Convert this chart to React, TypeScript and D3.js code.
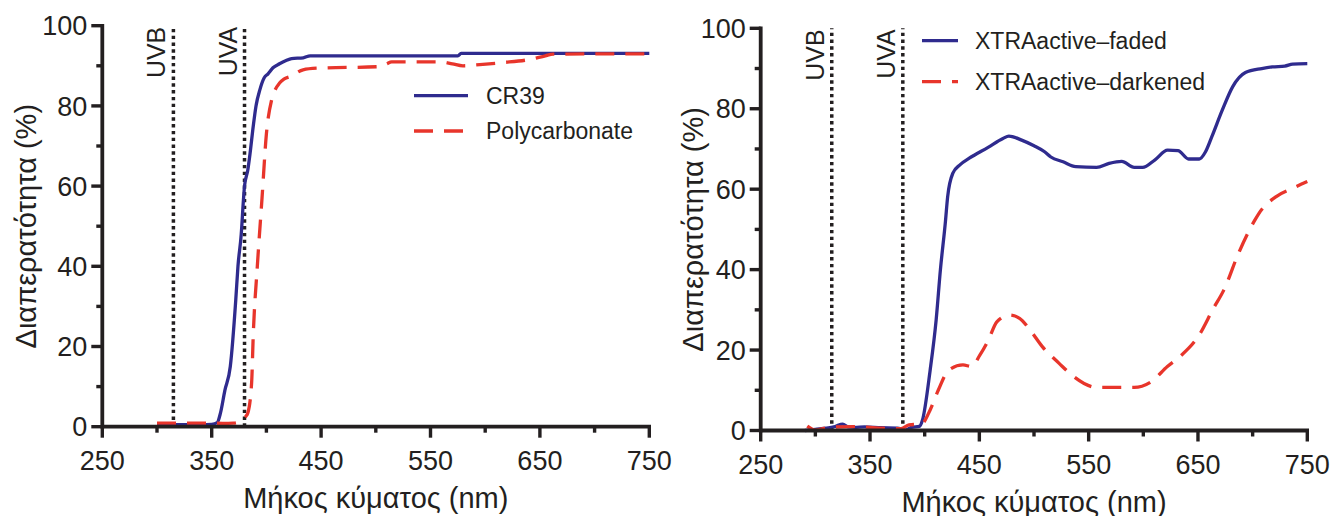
import React from "react";
import * as d3 from "d3";

// ---------- DATA ----------
const xMajorTicks = [250, 350, 450, 550, 650, 750];
const xMinorTicks = [300, 400, 500, 600, 700];
const yMajorTicks = [0, 20, 40, 60, 80, 100];
const yMinorTicks = [10, 30, 50, 70, 90];

const uvLines = [
  { label: "UVB", wl: 315 },
  { label: "UVA", wl: 380 },
];

// Left panel: CR39 (solid), Polycarbonate (dashed)
const cr39Wl = [300, 320, 340, 350, 355, 358, 362, 367, 372, 374, 377, 379, 380, 383, 385, 388, 390.5, 394, 398, 401.5, 406, 412, 418, 423, 433.7, 440, 500, 575, 578, 650, 750];
const cr39T = [0.5, 0.5, 0.5, 0.6, 1, 3.4, 9, 15, 31.6, 40, 48, 56.5, 60, 64, 68, 75, 80, 84, 87, 88, 89.5, 90.5, 91.3, 91.8, 92, 92.5, 92.5, 92.5, 93.1, 93.1, 93.1];

const polyWl = [300, 320, 340, 360, 370, 375, 378.6, 381, 383, 386.5, 388, 391.7, 396, 400, 404.8, 408, 412, 416, 421.6, 433.5, 446, 504, 510, 514.5, 558.7, 570, 579.7, 595, 616, 641, 655, 662, 750];
const polyT = [0.9, 0.9, 0.9, 0.85, 0.9, 1.2, 1.8, 2.5, 3.4, 11, 23, 40, 57, 73, 81.5, 84, 85.7, 86.7, 87.3, 89, 89.4, 89.8, 90.5, 91, 91, 90.5, 90, 90.3, 90.8, 91.6, 92.5, 92.9, 93];

// Right panel: XTRAactive faded (solid), darkened (dashed)
const fadedWl = [290.5, 300, 310, 318, 325, 330, 336, 345, 360, 375, 382, 388, 395, 398, 405, 410.5, 414.4, 419, 421, 425.8, 432, 440.8, 458, 471.6, 477, 488.7, 500, 509.7, 515.4, 526.6, 538.2, 557.3, 568.7, 580.2, 591.7, 599.3, 610.7, 622.2, 631.7, 641.4, 651.2, 656.9, 662.6, 672.3, 681.8, 693.4, 708.3, 718, 729.4, 736.6, 750];
const fadedT = [0, 0.3, 0.6, 1.0, 1.6, 0.9, 0.8, 0.9, 0.7, 0.6, 0.1, 0.8, 1.0, 2.6, 15, 27.5, 40, 52, 58.1, 64, 66, 67.7, 70.4, 72.6, 73.2, 72.2, 70.8, 69.3, 68, 66.8, 65.6, 65.4, 66.4, 66.9, 65.4, 65.4, 67.3, 69.7, 69.6, 67.5, 67.5, 69.3, 73, 79.7, 85.5, 89, 90, 90.4, 90.6, 91.1, 91.2];

const darkWl = [292.6, 300, 313, 336, 359, 378, 385.6, 397, 405, 412.4, 422, 435, 443, 450.6, 458.3, 466, 477.4, 486.8, 496.4, 507.8, 523, 534.5, 545.8, 557.4, 591.6, 607, 622, 633.6, 651, 664.2, 673.6, 687, 702, 705.8, 721.2, 736.5, 750];
const darkT = [1.1, 0.1, 0.8, 0.95, 0.6, 0.45, 1.4, 1.6, 5.1, 10, 15, 16.3, 15.9, 18.8, 22.5, 27, 28.7, 27.9, 25, 20.8, 16.7, 13.8, 11.7, 10.7, 10.7, 12.1, 15.9, 18.4, 23.7, 30.4, 34.9, 44, 52.3, 54, 58.1, 60.2, 61.9];

const leftLegend = ["CR39", "Polycarbonate"];
const rightLegend = ["XTRAactive\u2013faded", "XTRAactive\u2013darkened"];

const xTitle = "Μήκος κύματος (nm)";
const yTitle = "Διαπερατότητα (%)";

// ---------- STYLE ----------
const BLUE = "#2f2b8e";
const RED = "#e8352b";
const INK = "#231f20";
const FONT = "'Liberation Sans', Arial, Helvetica, sans-serif";
const DASH = "19 11";

type Series = { wl: number[]; t: number[]; color: string; dash?: string };

type PanelProps = {
  xr: [number, number];
  yr: [number, number];
  series: Series[];
  legend: string[];
  legendX: number;
  legendY: number[];
  legendLen: number;
  legendTextX: number;
  yTitleX: number;
};

function Panel(p: PanelProps) {
  const x = d3.scaleLinear().domain([250, 750]).range(p.xr);
  const y = d3.scaleLinear().domain([0, 100]).range(p.yr);
  const line = d3
    .line<[number, number]>()
    .x((d) => x(d[0]))
    .y((d) => y(d[1]))
    .curve(d3.curveMonotoneX);
  const x0 = p.xr[0];
  const yb = p.yr[0];
  const sw = 3.8;
  const tw = 3.4;
  return (
    <g fontFamily={FONT} fill={INK}>
      {/* UV dotted lines */}
      {uvLines.map((u) => (
        <g key={u.label}>
          <line
            x1={x(u.wl)}
            x2={x(u.wl)}
            y1={y(0)}
            y2={y(100)}
            stroke={INK}
            strokeWidth={3.5}
            strokeDasharray="3.4 3.4"
          />
          <text
            transform={`translate(${x(u.wl) - 8},${y(100) + 1}) rotate(-90)`}
            textAnchor="end"
            fontSize={25}
          >
            {u.label}
          </text>
        </g>
      ))}
      {/* series */}
      {p.series.map((s, i) => (
        <path
          key={i}
          d={line(s.wl.map((w, k) => [w, s.t[k]] as [number, number])) || ""}
          fill="none"
          stroke={s.color}
          strokeWidth={3.3}
          strokeDasharray={s.dash}
          strokeLinejoin="round"
        />
      ))}
      {/* axes */}
      <line x1={x0} x2={p.xr[1] + 1.7} y1={yb} y2={yb} stroke={INK} strokeWidth={sw} />
      <line x1={x0} x2={x0} y1={yb + 1.7} y2={p.yr[1] - 1.7} stroke={INK} strokeWidth={sw} />
      {xMajorTicks.map((t) => (
        <g key={"xm" + t}>
          <line x1={x(t)} x2={x(t)} y1={yb} y2={yb + 11} stroke={INK} strokeWidth={tw} />
          <text x={x(t)} y={yb + 43} textAnchor="middle" fontSize={27}>
            {t}
          </text>
        </g>
      ))}
      {xMinorTicks.map((t) => (
        <line key={"xn" + t} x1={x(t)} x2={x(t)} y1={yb} y2={yb + 6} stroke={INK} strokeWidth={tw} />
      ))}
      {yMajorTicks.map((t) => (
        <g key={"ym" + t}>
          <line x1={x0 - 11} x2={x0} y1={y(t)} y2={y(t)} stroke={INK} strokeWidth={tw} />
          <text x={x0 - 15} y={y(t)} dy="0.36em" textAnchor="end" fontSize={27}>
            {t}
          </text>
        </g>
      ))}
      {yMinorTicks.map((t) => (
        <line key={"yn" + t} x1={x0 - 6} x2={x0} y1={y(t)} y2={y(t)} stroke={INK} strokeWidth={tw} />
      ))}
      {/* titles */}
      <text x={(p.xr[0] + p.xr[1]) / 2} y={yb + 81} textAnchor="middle" fontSize={29}>
        {xTitle}
      </text>
      <text
        transform={`translate(${p.yTitleX},${(p.yr[0] + p.yr[1]) / 2}) rotate(-90)`}
        textAnchor="middle"
        fontSize={29}
      >
        {yTitle}
      </text>
      {/* legend */}
      {p.legend.map((l, i) => (
        <g key={l}>
          <line
            x1={p.legendX}
            x2={p.legendX + p.legendLen}
            y1={p.legendY[i]}
            y2={p.legendY[i]}
            stroke={p.series[i].color}
            strokeWidth={3.3}
            strokeDasharray={p.series[i].dash}
          />
          <text x={p.legendTextX} y={p.legendY[i]} dy="0.35em" fontSize={23}>
            {l}
          </text>
        </g>
      ))}
    </g>
  );
}

export default function App() {
  return (
    <svg
      width={1331}
      height={516}
      viewBox="0 0 1331 516"
      style={{ position: "absolute", left: 0, top: 0, background: "#fff" }}
    >
      <rect width={1331} height={516} fill="#fff" />
      <Panel
        xr={[102.3, 649.3]}
        yr={[426.7, 25.7]}
        series={[
          { wl: cr39Wl, t: cr39T, color: BLUE },
          { wl: polyWl, t: polyT, color: RED, dash: DASH },
        ]}
        legend={leftLegend}
        legendX={414}
        legendY={[95.7, 131]}
        legendLen={54}
        legendTextX={486}
        yTitleX={36}
      />
      <Panel
        xr={[760.7, 1307.3]}
        yr={[430.5, 28.3]}
        series={[
          { wl: fadedWl, t: fadedT, color: BLUE },
          { wl: darkWl, t: darkT, color: RED, dash: DASH },
        ]}
        legend={rightLegend}
        legendX={922}
        legendY={[40.7, 81.7]}
        legendLen={36}
        legendTextX={975}
        yTitleX={703}
      />
    </svg>
  );
}
